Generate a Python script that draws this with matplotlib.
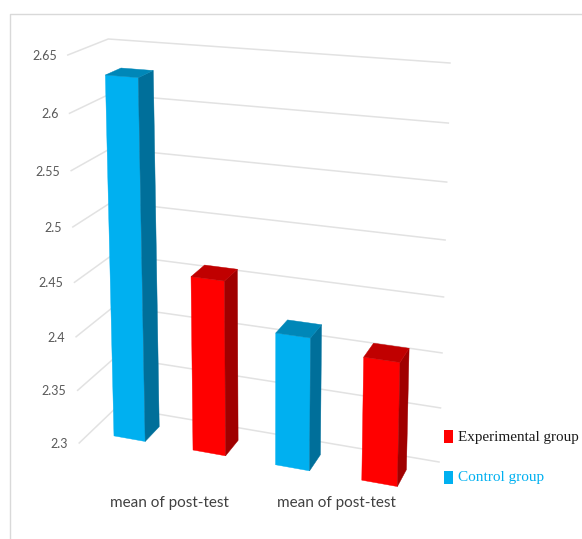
import numpy as np
import matplotlib
matplotlib.use("Agg")
import matplotlib.pyplot as plt
from matplotlib.patches import Polygon, Rectangle

categories = ["mean of post-test", "mean of post-test"]
series_names = ["Experimental group", "Control group"]
control_values = [2.63, 2.42]
experimental_values = [2.46, 2.41]
tick_values = [2.3, 2.35, 2.4, 2.45, 2.5, 2.55, 2.6, 2.65]
tick_labels = ["2.3", "2.35", "2.4", "2.45", "2.5", "2.55", "2.6", "2.65"]

BLUE = ("#00B0F0", "#006F9A", "#0087B8")
RED = ("#FF0000", "#A00000", "#C00000")
GRID = "#E2E2E2"

# corners of the 3d box: (x, depth, value) and where they land on the canvas
box_world = [(0, 0, 2.3), (0, 0, 2.65), (0, 1, 2.3), (0, 1, 2.65), (1, 1, 2.3), (1, 1, 2.65)]
box_pixel = [(79, 443), (68, 55), (117, 407), (108, 39), (439, 462), (450, 63)]


def fit_camera(world, pixel):
    rows = []
    rhs = []
    for (x, d, v), (px, py) in zip(world, pixel):
        rows.append([x, d, v, 1, 0, 0, 0, 0, -px * x, -px * d, -px * v])
        rows.append([0, 0, 0, 0, x, d, v, 1, -py * x, -py * d, -py * v])
        rhs += [px, py]
    m = np.linalg.lstsq(np.array(rows, float), np.array(rhs, float), rcond=None)[0]
    return np.append(m, 1).reshape(3, 4)


camera = fit_camera(box_world, box_pixel)


def project(x, d, v):
    p = camera @ np.array([x, d, v, 1.0])
    return p[0] / p[2], p[1] / p[2]


def draw_bar(ax, x0, x1, d0, d1, value, colors, base=2.3):
    front = [project(x0, d0, base), project(x1, d0, base), project(x1, d0, value), project(x0, d0, value)]
    side = [project(x1, d0, base), project(x1, d1, base), project(x1, d1, value), project(x1, d0, value)]
    top = [project(x0, d0, value), project(x1, d0, value), project(x1, d1, value), project(x0, d1, value)]
    for pts, c in zip([front, side, top], colors):
        ax.add_patch(Polygon(pts, closed=True, facecolor=c, edgecolor=c, linewidth=0.3, zorder=3))


fig = plt.figure(figsize=(5.82, 5.39), dpi=100)
ax = fig.add_axes([0, 0, 1, 1])
ax.set_xlim(0, 582)
ax.set_ylim(539, 0)
ax.axis("off")

# outer chart border, only top and left are visible
ax.plot([9.5, 9.5, 582], [539, 14, 14], color="#D9D9D9", linewidth=1.0)

for v, label in zip(tick_values, tick_labels):
    pts = [project(0, 0, v), project(0, 1, v), project(1, 1, v)]
    ax.plot([p[0] for p in pts], [p[1] for p in pts], color=GRID, linewidth=1.1, zorder=1)
    ax.text(pts[0][0] - 11, pts[0][1] + 1, label, ha="right", va="center", family="Lato",
            fontsize=9, color="#595959")

# two groups, control then experimental
bar_width = 0.1
depth = (0.3, 0.7)
starts = [0.075, 0.325, 0.575, 0.825]
bar_values = [control_values[0], experimental_values[0], control_values[1], experimental_values[1]]
bar_colors = [BLUE, RED, BLUE, RED]
for x0, value, colors in zip(starts, bar_values, bar_colors):
    draw_bar(ax, x0, x0 + bar_width, depth[0], depth[1], value, colors)

for x, label in zip([169.5, 336], categories):
    ax.text(x, 503, label, ha="center", va="center", family="Lato", fontsize=11, color="#404040")

# legend
ax.add_patch(Rectangle((444, 430), 9, 13, facecolor=RED[0], edgecolor="none"))
ax.add_patch(Rectangle((444, 471), 9, 12.5, facecolor=BLUE[0], edgecolor="none"))
ax.text(458, 437.5, series_names[0], ha="left", va="center", family="Liberation Serif",
        fontsize=10.9, color="#1A1A1A")
ax.text(458, 478, series_names[1], ha="left", va="center", family="Liberation Serif",
        fontsize=11, color=BLUE[0])

fig.savefig("out.png", dpi=100)
